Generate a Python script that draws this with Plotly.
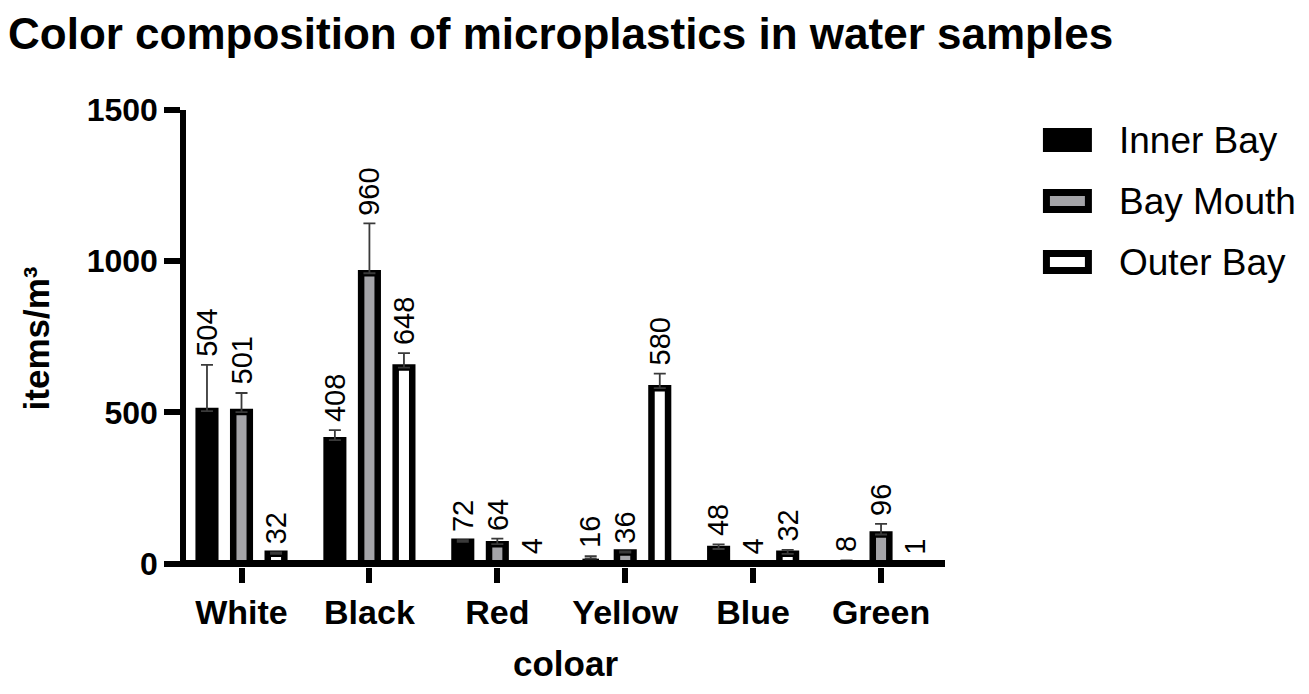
import plotly.graph_objects as go

categories = ["White", "Black", "Red", "Yellow", "Blue", "Green"]
series_names = ["Inner Bay", "Bay Mouth", "Outer Bay"]
inner_bay = [504, 408, 72, 16, 48, 8]
bay_mouth = [501, 960, 64, 36, 4, 96]
outer_bay = [32, 648, 4, 580, 32, 1]
inner_bay_err = [153, 33, 5, 8, 15, 2]
bay_mouth_err = [63, 165, 18, 4, 0, 35]
outer_bay_err = [5, 48, 0, 48, 13, 0]
y_ticks = [0, 500, 1000, 1500]

values = [inner_bay, bay_mouth, outer_bay]
errors = [inner_bay_err, bay_mouth_err, outer_bay_err]
fills = ["#000000", "#a4a4a8", "#ffffff"]

W, H = 1309, 694
L, R, T, B = 185.5, W - 945, 110, H - 567
BARGAP = 0.19
BARGROUPGAP = 0.52
FONT = "Liberation Sans, Arial, sans-serif"
XLINE_W = 7
OUTLINE_W = 6.5
PLOT_H = H - T - B
Y_MAX = 1500
# put the value 0 at the centre of the thick baseline
Y_MIN = -Y_MAX * (XLINE_W / 2) / (PLOT_H - XLINE_W / 2)
PX_PER_UNIT = PLOT_H / (Y_MAX - Y_MIN)

xs = list(range(len(categories)))
fig = go.Figure()
for name, vals, errs, fill in zip(series_names, values, errors, fills):
    # tiny bars hide under the baseline in the original, so no outline for them
    lw = [OUTLINE_W if v * PX_PER_UNIT >= 8 else 0 for v in vals]
    fig.add_trace(go.Bar(
        x=xs, y=vals, name=name,
        marker=dict(color=fill, line=dict(color="#000000", width=lw)),
        error_y=dict(type="data", symmetric=False, array=errs,
                     arrayminus=[0] * len(errs), color="#3a3a3a",
                     thickness=1.8, width=6),
        showlegend=False,
    ))

# value labels above error bars
slot = (1 - BARGAP) / len(series_names)
annotations = []
for k, (vals, errs) in enumerate(zip(values, errors)):
    off = (k - (len(series_names) - 1) / 2) * slot
    for i, (v, e) in enumerate(zip(vals, errs)):
        annotations.append(dict(
            x=xs[i] + off, y=v + e, xref="x", yref="y",
            text=str(v), showarrow=False, textangle=-90,
            xanchor="center", yanchor="bottom", yshift=6,
            font=dict(family=FONT, size=29, color="#000000"),
        ))

PW = W - L - R
shapes = []
# thick baseline at y = 0
shapes.append(dict(type="line", xref="paper", yref="y",
                   x0=-5.5 / PW, x1=1, y0=0, y1=0, layer="above",
                   line=dict(color="#000000", width=XLINE_W)))

# custom legend (large rectangular swatches)
leg_x0, leg_x1 = 1046.5, 1088.5
for k, (name, fill) in enumerate(zip(series_names, fills)):
    yc = 140 + k * 61
    shapes.append(dict(
        type="rect", xref="paper", yref="paper",
        x0=(leg_x0 - L) / PW, x1=(leg_x1 - L) / PW,
        y0=(H - B - (yc + 8.5)) / PLOT_H, y1=(H - B - (yc - 8.5)) / PLOT_H,
        fillcolor=fill, line=dict(color="#000000", width=7),
    ))
    annotations.append(dict(
        x=(1117 - L) / PW, y=(H - B - yc) / PLOT_H,
        xref="paper", yref="paper", text=name, showarrow=False,
        xanchor="left", yanchor="middle",
        font=dict(family=FONT, size=37, color="#000000"),
    ))

fig.update_layout(
    width=W, height=H,
    margin=dict(l=L, r=R, t=T, b=B, pad=0, autoexpand=False),
    paper_bgcolor="#ffffff", plot_bgcolor="#ffffff",
    barmode="group", bargap=BARGAP, bargroupgap=BARGROUPGAP,
    title=dict(text="Color composition of microplastics in water samples",
               x=0, xanchor="left", xref="container",
               y=1 - 34 / H, yanchor="middle", yref="container",
               pad=dict(l=8, r=0, t=0, b=0),
               font=dict(family=FONT, size=44, weight=700, color="#000000")),
    xaxis=dict(
        range=[-0.434, 5.5], tickvals=xs, ticktext=categories,
        showline=False, automargin=False,
        ticks="outside", ticklen=15, tickwidth=5.5, tickcolor="#000000",
        showgrid=False, zeroline=False,
        tickfont=dict(family=FONT, size=34, weight=700, color="#000000"),
        title=dict(text="coloar", standoff=21,
                   font=dict(family=FONT, size=35, weight=700, color="#000000")),
    ),
    yaxis=dict(
        range=[Y_MIN, Y_MAX], tickvals=y_ticks, automargin=False,
        showline=True, linecolor="#000000", linewidth=5.5,
        ticks="outside", ticklen=16, tickwidth=6, tickcolor="#000000",
        showgrid=False, zeroline=False,
        tickfont=dict(family=FONT, size=32, weight=700, color="#000000"),
        title=dict(text="items/m³", standoff=28,
                   font=dict(family=FONT, size=35, weight=700, color="#000000")),
    ),
    annotations=annotations, shapes=shapes,
)

fig.write_html("out.html", config={"displayModeBar": False},
               post_script="document.body.style.margin='0';")
